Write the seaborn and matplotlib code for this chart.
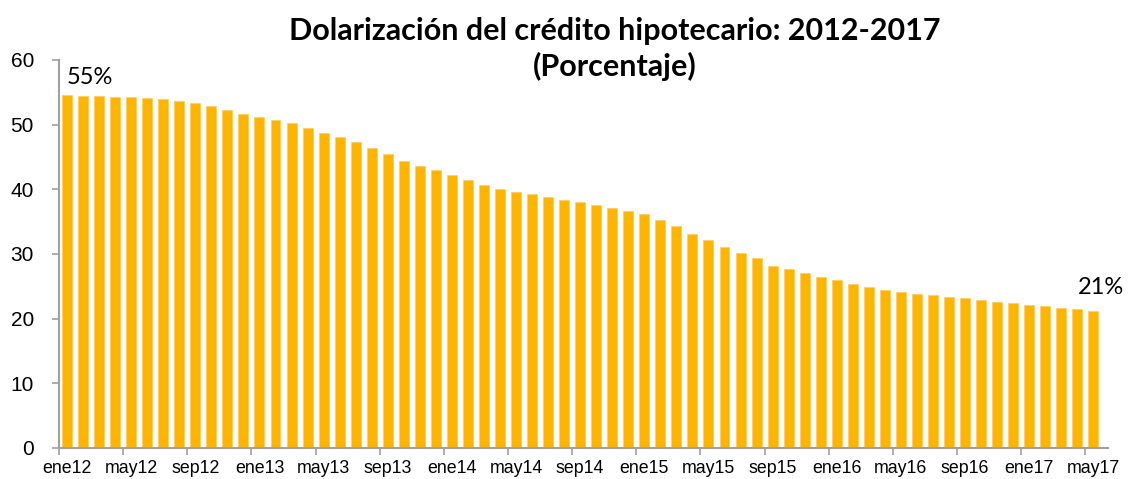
import seaborn as sns
import matplotlib.pyplot as plt
import pandas as pd

# monthly series ene12 .. may17
months = ['ene', 'feb', 'mar', 'abr', 'may', 'jun', 'jul', 'ago', 'sep', 'oct', 'nov', 'dic']
periods = [f"{m}{y}" for y in range(12, 18) for m in months][:65]

dolarizacion = [
    54.6, 54.4, 54.4, 54.3, 54.3, 54.1, 53.9, 53.6, 53.3, 52.8, 52.3, 51.6,
    51.1, 50.7, 50.2, 49.5, 48.7, 48.0, 47.3, 46.4, 45.4, 44.4, 43.6, 42.9,
    42.2, 41.5, 40.7, 40.1, 39.6, 39.2, 38.8, 38.4, 38.0, 37.5, 37.1, 36.6,
    36.1, 35.3, 34.3, 33.1, 32.1, 31.0, 30.2, 29.3, 28.2, 27.6, 27.0, 26.4,
    25.9, 25.4, 24.8, 24.4, 24.1, 23.8, 23.6, 23.4, 23.2, 22.9, 22.6, 22.4,
    22.1, 21.9, 21.6, 21.5, 21.2,
]

df = pd.DataFrame({'Periodo': periods, 'Valor': dolarizacion})

sns.set_style('white')
plt.rcParams['font.family'] = ['Liberation Sans', 'DejaVu Sans']
plt.rcParams['text.color'] = 'black'
plt.rcParams['xtick.labelcolor'] = 'black'
plt.rcParams['ytick.labelcolor'] = 'black'

fig = plt.figure(figsize=(11.35, 4.79), dpi=100)
ax = fig.add_axes([0.052, 0.065, 0.924, 0.81])

sns.barplot(data=df, x='Periodo', y='Valor', color='#FFB400', saturation=1,
            width=0.62, edgecolor='#FFD060', linewidth=0.6, ax=ax)

ax.set_ylim(0, 60)
ax.set_xlim(-0.5, len(periods) - 0.1)
ax.set_yticks(range(0, 61, 10))
ax.tick_params(axis='y', labelsize=15, length=5, width=1.2, color='#A0A0A0',
               labelcolor='black', left=True, pad=13)

# labels every 4 months, tick marks between categories
lab_pos = list(range(0, len(periods), 4))
ax.set_xticks(lab_pos)
ax.set_xticklabels([periods[i] for i in lab_pos], fontsize=12.8)
ax.set_xticks([i - 0.5 for i in lab_pos], minor=True)
ax.tick_params(axis='x', which='major', length=0, pad=9, labelcolor='black')
ax.tick_params(axis='x', which='minor', length=5, width=1.2, color='#A0A0A0', bottom=True)

ax.set_xlabel('')
ax.set_ylabel('')
sns.despine(ax=ax)
for s in ('left', 'bottom'):
    ax.spines[s].set_color('#A0A0A0')
    ax.spines[s].set_linewidth(1.5)

ax.text(0, dolarizacion[0] + 1.7, f"{round(dolarizacion[0])}%", ha='left',
        va='baseline', fontsize=17, family='Lato', color='black')
ax.text(len(periods) - 0.5, dolarizacion[-1] + 2.6, f"{round(dolarizacion[-1])}%",
        ha='center', va='baseline', fontsize=17, family='Lato', color='black')

fig.text(0.542, 0.897, 'Dolarización del crédito hipotecario: 2012-2017\n(Porcentaje)',
         ha='center', va='center', fontsize=22, fontweight='bold', family='Lato',
         linespacing=1.3, color='black')

fig.savefig('out.png', dpi=100)
